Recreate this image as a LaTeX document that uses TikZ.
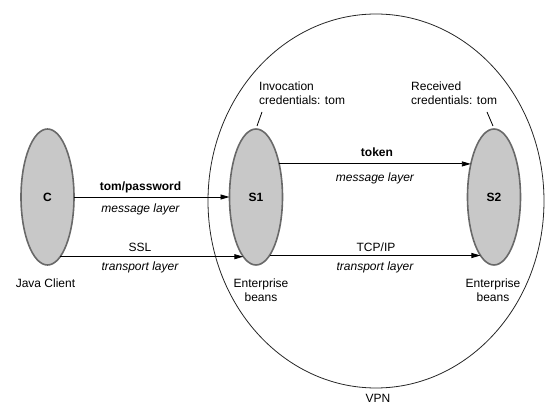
\documentclass[tikz,border=0pt]{standalone}
\usepackage{fontspec}
\setmainfont{Liberation Sans}
\usetikzlibrary{arrows.meta,shapes.geometric}
\definecolor{beanfill}{RGB}{200,200,200}
\definecolor{beanline}{RGB}{105,105,105}
\begin{document}
\begin{tikzpicture}[x=1pt,y=-1pt,
  font=\fontsize{12}{14}\selectfont,
  bean/.style={ellipse, draw=beanline, fill=beanfill, line width=1.6pt,
    minimum width=53pt, minimum height=136pt, inner sep=0pt, outer sep=0pt,
    font=\fontsize{12}{14}\selectfont\bfseries},
  vpnshape/.style={ellipse, draw=black!85, line width=0.8pt,
    minimum width=336pt, minimum height=374pt, inner sep=0pt, outer sep=0pt},
  arr/.style={-{Triangle[length=9pt,width=5pt]}, line width=0.9pt},
  leader/.style={line width=0.8pt},
  lbl/.style={inner sep=0pt, align=center},
  lblb/.style={lbl, font=\fontsize{12}{14}\selectfont\bfseries},
  lbli/.style={lbl, font=\fontsize{12}{14}\selectfont\itshape},
  note/.style={inner sep=0pt, align=left, anchor=west}
]
\useasboundingbox (0,0) rectangle (550,409);

\node[vpnshape] (vpn) at (376,201) {};
\node[lbl] (vpnlbl) at (378,398) {VPN};

\node[bean] (C) at (47.5,197) {C};
\node[bean] (S1) at (256,197) {S1};
\node[bean] (S2) at (494,197) {S2};

\node[lbl] (jc) at (45.5,283) {Java Client};
\node[lbl] (eb1) at (261,290.5) {Enterprise\\beans};
\node[lbl] (eb2) at (493,290.5) {Enterprise\\beans};

\node[note] (inv) at (259,93.5) {Invocation\\credentials: tom};
\node[note] (rec) at (411,93.5) {Received\\credentials: tom};
\coordinate (i1) at (262,112);
\coordinate (i2) at (257,126);
\coordinate (r1) at (487,112);
\coordinate (r2) at (493,126);
\draw[leader] (i1) -- (i2);
\draw[leader] (r1) -- (r2);

% C -> S1
\draw[arr] (C.east) -- (S1.west);
\node[lblb] (tp) at (140.5,187) {tom/password};
\node[lbli] (ml1) at (140.5,209.5) {message layer};
\draw[arr] (C.-78) -- (C.-78 -| S1.-102);
\node[lbl] (ssl) at (140,247.5) {SSL};
\node[lbli] (tl1) at (140,267) {transport layer};

% S1 -> S2
\draw[arr] (S1.55) -- (S1.55 -| S2.125);
\node[lblb] (tok) at (377,152) {token};
\node[lbli] (ml2) at (375,178) {message layer};
\draw[arr] (S1.-77) -- (S1.-77 -| S2.-103);
\node[lbl] (tcp) at (376,247.5) {TCP/IP};
\node[lbli] (tl2) at (375,267) {transport layer};
\end{tikzpicture}
\end{document}
